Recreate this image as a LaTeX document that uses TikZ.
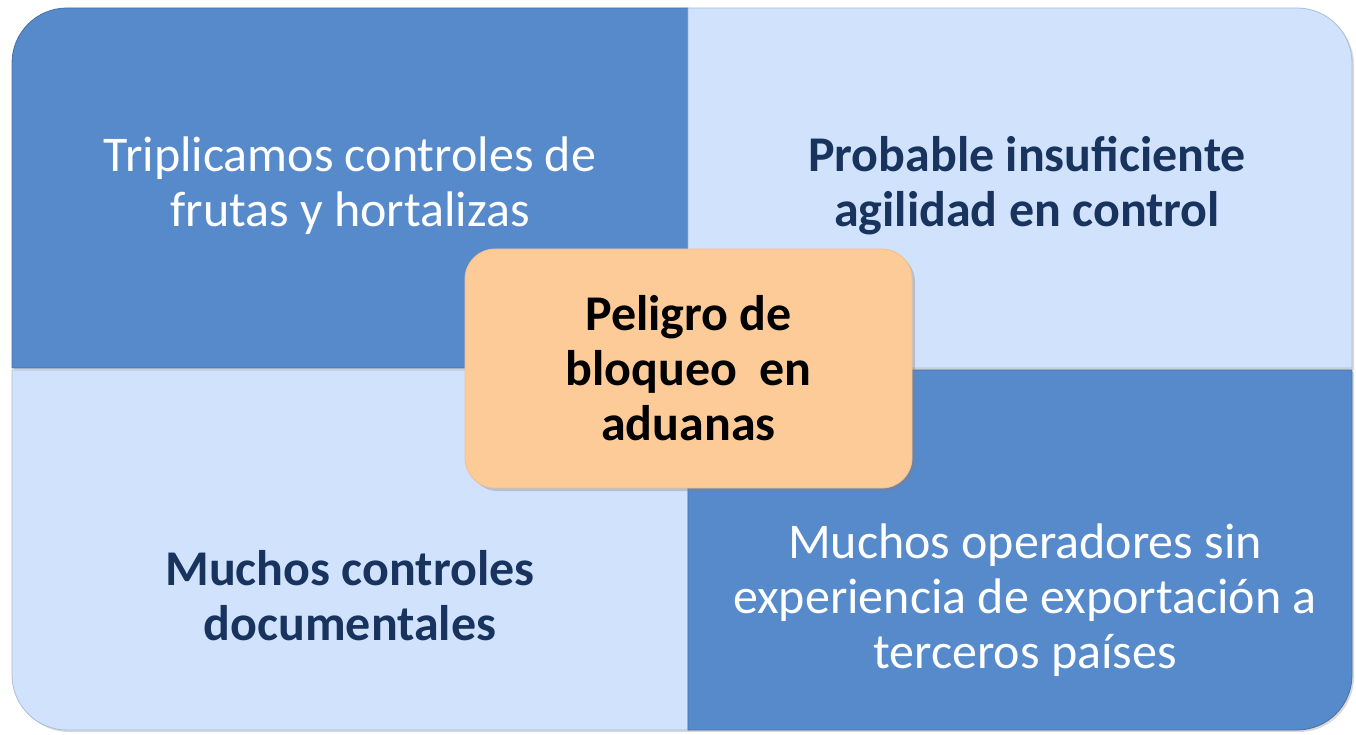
\documentclass[tikz,border=0pt]{standalone}
\usepackage{fontspec}
\setmainfont{Carlito}
\usetikzlibrary{shadows}
\definecolor{darkq}{RGB}{86,138,203}
\definecolor{lightq}{RGB}{209,227,252}
\definecolor{navytext}{RGB}{24,52,94}
\definecolor{orangebox}{RGB}{252,203,152}
\definecolor{darkedge}{RGB}{70,112,168}
\definecolor{lightedge}{RGB}{170,190,215}
\tikzset{
  quaddark/.style={fill=darkq, draw=darkedge, line width=0.8pt},
  quadlight/.style={fill=lightq, draw=lightedge, line width=0.8pt},
  softshadow/.style={drop shadow={opacity=0.3, shadow xshift=2pt, shadow yshift=-2pt}},
  whitetxt/.style={text=white, align=center, font=\fontsize{50}{55}\selectfont, inner sep=0pt},
  navytxt/.style={text=navytext, align=center, font=\fontsize{50}{55}\selectfont\bfseries, inner sep=0pt},
  centerbox/.style={fill=orangebox, draw=orangebox!85!brown, line width=0.8pt, rounded corners=30pt,
    minimum width=447pt, minimum height=239pt, text=black, align=center,
    font=\fontsize{50}{55}\selectfont\bfseries, inner sep=0pt,
    drop shadow={opacity=0.35, shadow xshift=3pt, shadow yshift=-3pt}}
}
\begin{document}
\begin{tikzpicture}[x=1pt,y=1pt]
\useasboundingbox (0,0) rectangle (1356,734);
% quadrants (y measured upward from the bottom of the picture)
\path[quaddark, softshadow] (12,366) -- (12,671) arc[start angle=180,end angle=90,radius=55] -- (688,726) -- (688,366) -- cycle;
\path[quadlight, softshadow] (688,366) -- (688,726) -- (1297,726) arc[start angle=90,end angle=0,radius=55] -- (1352,366) -- cycle;
\path[quadlight, softshadow] (12,364) -- (12,59) arc[start angle=180,end angle=270,radius=55] -- (688,4) -- (688,364) -- cycle;
\path[quaddark, softshadow] (688,364) -- (688,4) -- (1297,4) arc[start angle=270,end angle=360,radius=55] -- (1352,364) -- cycle;
% texts
\node[whitetxt] (tl) at (350,548) {Triplicamos controles de\\frutas y hortalizas};
\node[navytxt] (tr) at (1027,548) {Probable insuficiente\\agilidad en control};
\node[navytxt] (bl) at (350,138) {Muchos controles\\documentales};
\node[whitetxt] (br) at (1025,134) {Muchos operadores sin\\experiencia de exportación a\\terceros países};
% centre box
\node[centerbox] (c) at (688.5,365.5) {Peligro de\\bloqueo\ \ en\\aduanas};
\end{tikzpicture}
\end{document}
